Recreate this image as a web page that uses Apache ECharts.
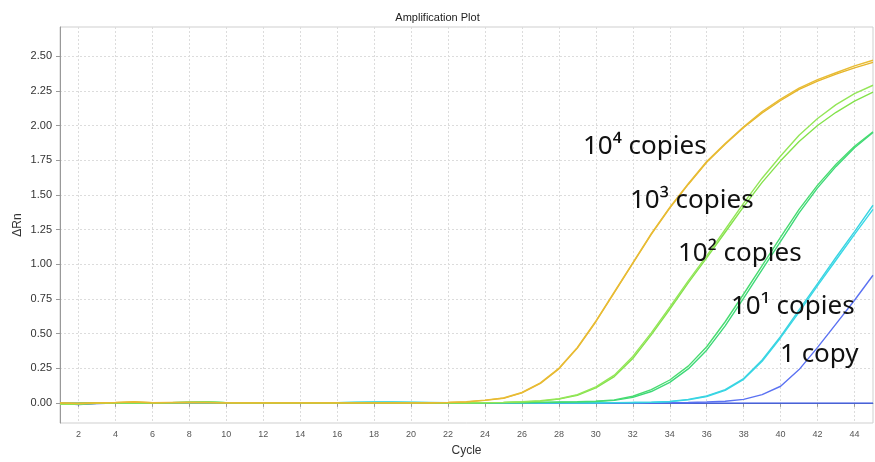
<!DOCTYPE html>
<html>
<head>
<meta charset="utf-8">
<script src="https://cdn.jsdelivr.net/npm/echarts@6/dist/echarts.min.js"></script>
<style>html,body{margin:0;padding:0;background:#fff}#c{width:875px;height:462px}</style>
</head>
<body>
<div id="c"></div>
<script>
var cycles = [];
for (var i = 1; i <= 45; i++) cycles.push(String(i));

var copies1e4A = [0.000,-0.004,0.000,0.003,0.008,0.002,0.003,0.004,0.003,0.000,
  0.000,0.000,0.000,0.000,0.000,0.000,0.000,0.000,0.000,0.000,
  0.001,0.004,0.008,0.020,0.035,0.075,0.145,0.250,0.400,0.590,
  0.800,1.010,1.220,1.410,1.580,1.740,1.870,1.990,2.100,2.190,
  2.270,2.330,2.380,2.430,2.470];
var copies1e4B = [0.000,-0.003,0.000,0.002,0.006,0.001,0.002,0.003,0.002,0.000,
  0.000,0.000,0.000,0.000,0.000,0.000,0.000,0.000,0.000,0.000,
  0.001,0.003,0.007,0.018,0.033,0.072,0.140,0.245,0.395,0.585,
  0.795,1.005,1.215,1.405,1.575,1.735,1.865,1.985,2.090,2.180,
  2.260,2.320,2.370,2.415,2.455];
var copies1e3A = [-0.010,-0.008,-0.003,0.000,0.000,0.000,0.002,0.004,0.005,0.002,
  0.000,0.000,0.000,0.000,0.000,0.000,0.000,0.000,0.000,0.000,
  0.000,0.000,0.001,0.002,0.004,0.008,0.015,0.030,0.060,0.115,
  0.200,0.335,0.505,0.690,0.880,1.060,1.250,1.440,1.620,1.780,
  1.930,2.050,2.150,2.230,2.290];
var copies1e3B = [-0.010,-0.008,-0.003,0.000,0.000,0.000,0.002,0.003,0.004,0.002,
  0.000,0.000,0.000,0.000,0.000,0.000,0.000,0.000,0.000,0.000,
  0.000,0.000,0.001,0.002,0.003,0.007,0.013,0.027,0.055,0.108,
  0.190,0.320,0.490,0.675,0.865,1.045,1.230,1.415,1.590,1.745,
  1.885,2.000,2.095,2.175,2.240];
var copies1e2A = [-0.005,-0.004,-0.001,0.000,0.000,0.000,0.002,0.005,0.006,0.002,
  0.000,0.000,0.000,0.000,0.000,0.000,0.000,0.000,0.000,0.000,
  0.000,0.000,0.000,0.001,0.002,0.003,0.004,0.006,0.008,0.012,
  0.022,0.048,0.095,0.165,0.265,0.405,0.585,0.785,0.990,1.195,
  1.395,1.570,1.720,1.850,1.955];
var copies1e2B = [-0.005,-0.004,-0.001,0.000,0.000,0.000,0.002,0.004,0.005,0.002,
  0.000,0.000,0.000,0.000,0.000,0.000,0.000,0.000,0.000,0.000,
  0.000,0.000,0.000,0.001,0.002,0.003,0.004,0.005,0.007,0.010,
  0.018,0.040,0.082,0.148,0.245,0.380,0.555,0.755,0.960,1.165,
  1.370,1.550,1.705,1.840,1.950];
var copies1e1A = [0.000,0.000,0.000,0.000,0.000,0.000,0.000,0.000,0.000,0.000,
  0.000,0.000,0.000,0.000,0.000,0.002,0.005,0.006,0.006,0.005,
  0.003,0.001,0.001,0.001,0.001,0.001,0.001,0.001,0.001,0.001,
  0.002,0.003,0.005,0.010,0.025,0.050,0.095,0.175,0.310,0.480,
  0.670,0.860,1.050,1.235,1.425];
var copies1e1B = [0.000,0.000,0.000,0.000,0.000,0.000,0.000,0.000,0.000,0.000,
  0.000,0.000,0.000,0.000,0.000,0.002,0.004,0.005,0.005,0.004,
  0.002,0.001,0.001,0.001,0.001,0.001,0.001,0.001,0.001,0.001,
  0.002,0.003,0.004,0.009,0.022,0.046,0.090,0.170,0.300,0.470,
  0.655,0.845,1.030,1.215,1.395];
var copy1A = [0.000,-0.010,-0.002,0.000,0.000,0.000,0.000,0.000,0.000,0.000,
  0.000,0.000,0.000,0.000,0.000,0.000,0.000,0.000,0.000,0.000,
  0.000,0.000,0.000,0.000,0.000,0.000,0.000,0.000,0.000,0.000,
  0.000,0.000,0.001,0.002,0.003,0.006,0.012,0.025,0.060,0.120,
  0.240,0.400,0.570,0.740,0.920];
var copy1B = [-0.003,-0.012,-0.004,-0.002,-0.002,-0.002,-0.002,-0.002,-0.002,-0.002,
  -0.002,-0.002,-0.002,-0.002,-0.002,-0.002,-0.002,-0.002,-0.002,-0.002,
  -0.002,-0.002,-0.002,-0.002,-0.002,-0.002,-0.002,-0.002,-0.002,-0.002,
  -0.002,-0.002,-0.002,-0.002,-0.002,-0.002,-0.002,-0.002,-0.002,-0.002,
  -0.002,-0.002,-0.002,-0.002,-0.002];

var yTicks = [0, 0.25, 0.5, 0.75, 1, 1.25, 1.5, 1.75, 2, 2.25, 2.5];
var labels = ['10\u2074 copies', '10\u00B3 copies', '10\u00B2 copies', '10\u00B9 copies', '1 copy'];

var seriesDefs = [
  {name: '1 copy B', data: copy1B, color: '#3050e6'},
  {name: '1 copy A', data: copy1A, color: '#5b72f2'},
  {name: '10^1 B', data: copies1e1B, color: '#38d8e6'},
  {name: '10^1 A', data: copies1e1A, color: '#3ad4e2'},
  {name: '10^2 B', data: copies1e2B, color: '#3ed878'},
  {name: '10^2 A', data: copies1e2A, color: '#48dc70'},
  {name: '10^3 B', data: copies1e3B, color: '#84e24c'},
  {name: '10^3 A', data: copies1e3A, color: '#94e658'},
  {name: '10^4 B', data: copies1e4B, color: '#e6b52a'},
  {name: '10^4 A', data: copies1e4A, color: '#e8bc34'}
];

var chart = echarts.init(document.getElementById('c'), null, {renderer: 'canvas'});

var oddIdx = function (idx) { return idx % 2 === 1; };
var labelPos = [[583, 147], [630, 201], [678, 254], [731, 307], [780, 355]];

chart.setOption({
  animation: false,
  backgroundColor: '#fff',
  title: {
    text: 'Amplification Plot', left: 'center', top: 7,
    textStyle: {fontFamily: 'Liberation Sans, Arial', fontSize: 11, fontWeight: 'normal', color: '#222'}
  },
  grid: {left: 60, right: 2, top: 27, bottom: 39, show: true, borderColor: '#cfcfcf', borderWidth: 1,
    containLabel: false, outerBoundsMode: 'none'},
  xAxis: {
    type: 'category', data: cycles, boundaryGap: false,
    name: 'Cycle', nameLocation: 'middle', nameGap: 22, nameMoveOverlap: false,
    nameTextStyle: {fontFamily: 'Liberation Sans, Arial', fontSize: 12, color: '#333'},
    axisLine: {lineStyle: {color: '#999'}},
    axisTick: {show: true, interval: oddIdx, length: 4, lineStyle: {color: '#999'}},
    axisLabel: {interval: oddIdx, fontFamily: 'Liberation Sans, Arial', fontSize: 9, color: '#555', margin: 7},
    splitLine: {show: true, interval: oddIdx, lineStyle: {color: '#dcdcdc', type: [2, 2], width: 1}}
  },
  yAxis: {
    type: 'value', min: -0.145, max: 2.71,
    name: '\u0394Rn', nameLocation: 'middle', nameGap: 36, nameRotate: 90, nameMoveOverlap: false,
    nameTextStyle: {fontFamily: 'Liberation Sans, Arial', fontSize: 12, color: '#333'},
    axisLine: {show: true, lineStyle: {color: '#999'}},
    axisTick: {show: true, length: 4, customValues: yTicks, lineStyle: {color: '#999'}},
    axisLabel: {
      customValues: yTicks, margin: 8,
      fontFamily: 'Liberation Sans, Arial', fontSize: 11, color: '#333',
      formatter: function (v) { return Number(v).toFixed(2); }
    },
    splitLine: {show: true, lineStyle: {color: '#dcdcdc', type: [2, 2], width: 1}}
  },
  series: seriesDefs.map(function (s) {
    return {
      type: 'line', name: s.name, data: s.data, showSymbol: false, symbol: 'none',
      lineStyle: {color: s.color, width: 1.4}, itemStyle: {color: s.color},
      emphasis: {disabled: true}, silent: true
    };
  }),
  graphic: labels.map(function (t, i) {
    return {
      type: 'text', x: labelPos[i][0], y: labelPos[i][1], z: 100,
      style: {text: t, font: '26px "Noto Sans"', fill: '#111', textAlign: 'left', textVerticalAlign: 'middle'}
    };
  })
});
</script>
</body>
</html>
